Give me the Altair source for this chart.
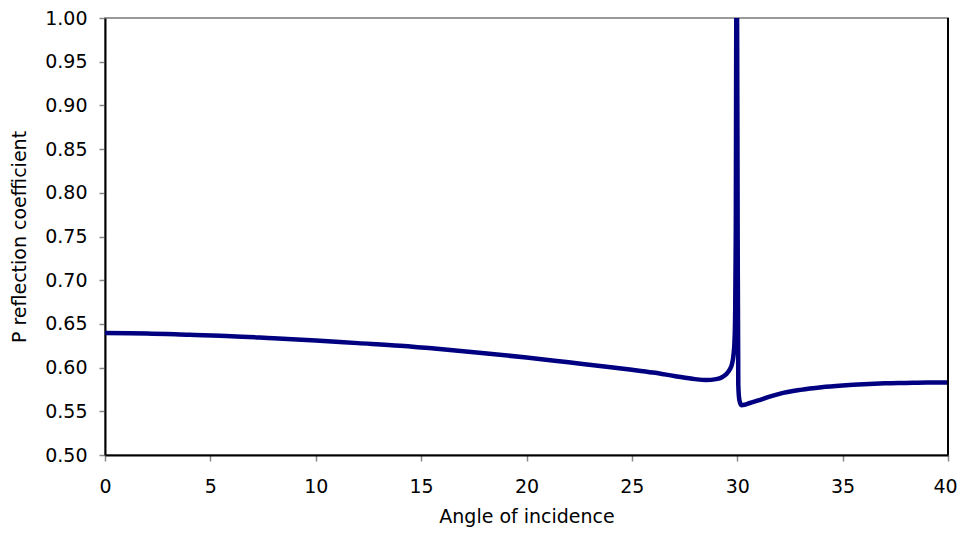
import altair as alt
import pandas as pd

angle = [0, 2, 4, 6, 8, 10, 12, 14, 16, 18, 20, 22, 24, 25, 26, 27, 28, 28.5, 29, 29.3, 29.5,
         29.65, 29.75, 29.82, 29.87, 29.9, 29.93, 29.96, 29.99, 30.02, 30.05, 30.1, 30.2, 30.35,
         30.6, 31, 31.5, 32, 33, 34, 35, 36, 37, 38, 39, 40]
p_coef = [0.6395, 0.639, 0.6375, 0.636, 0.6335, 0.631, 0.628, 0.625, 0.621, 0.6165, 0.6115, 0.606,
          0.6005, 0.5975, 0.5943, 0.5905, 0.5868, 0.5858, 0.5868, 0.5893, 0.593,
          0.598, 0.604, 0.614, 0.63, 0.66, 0.75, 1.02, 1.02, 0.75, 0.58, 0.563, 0.557, 0.5575,
          0.5595, 0.5625, 0.5665, 0.5700, 0.5745, 0.5775, 0.5795, 0.581, 0.582, 0.5825, 0.583, 0.583]

df = pd.DataFrame({"angle": angle, "p": p_coef})

FONT = "DejaVu Sans"
FS = 19

line = alt.Chart(df).mark_line(color="#000080", strokeWidth=4.5, clip=True, interpolate="monotone").encode(
    x=alt.X("angle:Q", scale=alt.Scale(domain=[0, 40], nice=False),
            axis=alt.Axis(title="Angle of incidence", values=[0, 5, 10, 15, 20, 25, 30, 35, 40],
                          grid=False, domainColor="black", domainWidth=2, tickColor="#888",
                          tickSize=6, tickWidth=1.5, labelFont=FONT, labelFontSize=FS,
                          labelFlush=False, labelOverlap=False,
                          labelOffset=alt.expr("datum.value == 40 ? -3 : 0"),
                          labelColor="black", labelPadding=16, titleFont=FONT, titleFontSize=FS,
                          titleFontWeight="normal", titleColor="black", titlePadding=11)),
    y=alt.Y("p:Q", scale=alt.Scale(domain=[0.5, 1.0], nice=False, zero=False),
            axis=alt.Axis(title="P reflection coefficient", format=".2f",
                          values=[0.5, 0.55, 0.6, 0.65, 0.7, 0.75, 0.8, 0.85, 0.9, 0.95, 1.0],
                          grid=False, domainColor="black", domainWidth=2, tickColor="#888",
                          tickSize=6, tickWidth=1.5, labelFont=FONT, labelFontSize=FS,
                          labelFlush=False, labelOverlap=False,
                          labelColor="black", labelPadding=12, titleFont=FONT, titleFontSize=FS,
                          titleFontWeight="normal", titleColor="black", titlePadding=15)),
)

right_edge = alt.Chart(pd.DataFrame({"x": [40]})).mark_rule(color="black", strokeWidth=2).encode(
    x="x:Q"
)

chart = alt.layer(line, right_edge).properties(
    width=843, height=437,
    autosize=alt.AutoSizeParams(type="none"),
    padding={"left": 97, "top": 10, "right": 10, "bottom": 75},
).configure_view(stroke="#999", strokeWidth=2)

chart.save("out.html", embed_options={"renderer": "svg", "actions": False})
